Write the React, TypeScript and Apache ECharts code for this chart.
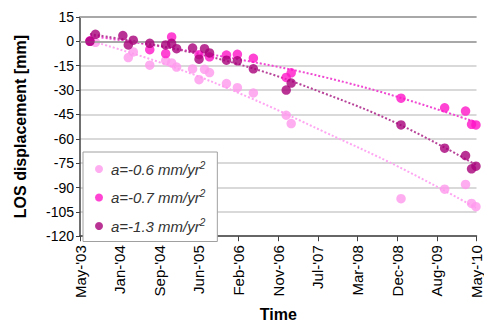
import React, { useEffect, useRef } from "react";
import * as echarts from "echarts";

// Axis starts at May 2003 (decimal year), one tick every 0.7 year
const AXIS_START = 2003.3333;
const TICK_STEP = 0.7;
const tickLabels = [
  "May-'03", "Jan-'04", "Sep-'04", "Jun-'05", "Feb-'06", "Nov-'06",
  "Jul-'07", "Mar-'08", "Dec-'08", "Aug-'09", "May-'10",
];
const yTicks = { min: -120, max: 15, step: 15 };

const seriesNames = ["a=-0.6 mm/yr", "a=-0.7 mm/yr", "a=-1.3 mm/yr"];
const colors = ["#ff99ee", "#ff14c8", "#a8007a"];
const trendColors = ["#ffa6f2", "#f048d2", "#b8449a"];

// [decimal year, LOS displacement mm]
const lightPts: [number, number][] = [
  [2003.509, 0], [2003.606, -0.6], [2004.186, -10], [2004.274, -6.5],
  [2004.565, -14.7], [2004.846, -11.8], [2004.951, -13.3], [2005.039, -15.8],
  [2005.321, -17], [2005.435, -23.6], [2005.532, -17.2], [2005.62, -19.2],
  [2005.919, -26], [2006.112, -28.5], [2006.394, -31.8], [2006.974, -45.5],
  [2007.062, -50.6], [2009.001, -96.9], [2009.771, -91], [2010.14, -88.1],
  [2010.246, -99.8], [2010.324, -101.8],
];
const midPts: [number, number][] = [
  [2003.509, 0.3], [2004.565, -5.1], [2004.846, -7.5], [2004.951, 2.7],
  [2005.435, -8.2], [2005.62, -9.5], [2005.919, -8.4], [2006.112, -8],
  [2006.394, -10.4], [2006.974, -22.2], [2007.062, -19.4], [2009.001, -35],
  [2009.771, -40.9], [2010.14, -42.9], [2010.246, -51.1], [2010.324, -51.5],
];
const darkPts: [number, number][] = [
  [2003.509, 0], [2003.606, 4.3], [2004.09, 3.6], [2004.186, -2.2],
  [2004.274, 0.7], [2004.565, -1.2], [2004.846, -2.2], [2004.951, -1.2],
  [2005.039, -4.5], [2005.321, -4.1], [2005.435, -11], [2005.532, -4.5],
  [2005.62, -7.1], [2005.919, -11.6], [2006.112, -12], [2006.394, -16.9],
  [2006.974, -30], [2007.062, -25.7], [2009.001, -51.5], [2009.771, -65.8],
  [2010.14, -70.3], [2010.246, -78.5], [2010.324, -76.9],
];

// fitted trend curves
const lightTrend: [number, number][] = [
  [2003.509, 0.5], [2004.916, -15], [2006.323, -34.6], [2007.642, -55.7],
  [2008.961, -77.3], [2010.324, -102.5],
];
const midTrend: [number, number][] = [
  [2003.509, 3.5], [2004.916, -4], [2006.323, -12.3], [2007.642, -22],
  [2008.961, -34.4], [2010.324, -49.8],
];
const darkTrend: [number, number][] = [
  [2003.509, 4.5], [2004.916, -4], [2006.323, -16], [2007.642, -32],
  [2008.961, -51], [2010.324, -76],
];

const toAxis = (pts: [number, number][]) =>
  pts.map(([yr, v]) => [yr - AXIS_START, v]);

export default function App() {
  const ref = useRef<HTMLDivElement>(null);
  useEffect(() => {
    if (!ref.current) return;
    const chart = echarts.init(ref.current, undefined, { renderer: "svg" });
    const pts = [lightPts, midPts, darkPts];
    const trends = [lightTrend, midTrend, darkTrend];
    const font = "'Liberation Sans', Arial, sans-serif";
    const series: any[] = [];
    trends.forEach((t, i) => {
      series.push({
        name: "trend" + i,
        type: "line",
        data: toAxis(t),
        smooth: 0.4,
        showSymbol: false,
        symbol: "none",
        lineStyle: { color: trendColors[i], width: 2, type: [2, 2] },
        z: 2,
        silent: true,
        ...(i === 0
          ? {
              markLine: {
                silent: true,
                symbol: "none",
                label: { show: false },
                lineStyle: { color: "#a8a8a8", width: 2, type: "solid" },
                data: [{ yAxis: 0 }, { yAxis: 15 }],
              },
            }
          : {}),
      });
    });
    pts.forEach((p, i) => {
      series.push({
        name: seriesNames[i],
        type: "scatter",
        data: toAxis(p),
        symbol: "circle",
        symbolSize: 9.5,
        itemStyle: { color: colors[i] },
        z: 3 + i,
        clip: false,
      });
    });
    chart.setOption({
      animation: false,
      backgroundColor: "#ffffff",
      textStyle: { fontFamily: font },
      grid: { left: 80, right: 6, top: 17, bottom: 80, containLabel: false },
      legend: {
        data: seriesNames.map((n, i) => ({ name: n, itemStyle: { color: colors[i] } })),
        orient: "vertical",
        left: 83,
        top: 152,
        padding: [8, 12, 8, 12],
        itemGap: 12,
        itemWidth: 8,
        itemHeight: 8,
        icon: "circle",
        backgroundColor: "#ffffff",
        borderColor: "#a0a0a0",
        borderWidth: 1,
        formatter: (name: string) => `{n|${name}}{s|2}`,
        textStyle: {
          fontFamily: font,
          padding: [0, 0, 0, 3],
          rich: {
            n: { fontSize: 15, fontStyle: "italic", color: "#333333", fontFamily: font },
            s: {
              fontSize: 10,
              fontStyle: "italic",
              color: "#333333",
              fontFamily: font,
              padding: [0, 0, 8, 0],
            },
          },
        },
      },
      xAxis: {
        type: "value",
        min: 0,
        max: TICK_STEP * 10,
        interval: TICK_STEP,
        name: "Time",
        nameLocation: "middle",
        nameGap: 66,
        nameTextStyle: { fontSize: 16, fontWeight: "bold", color: "#000", fontFamily: font },
        axisLine: { onZero: false, lineStyle: { color: "#404040", width: 1.5 } },
        axisTick: { show: true, length: 5, lineStyle: { color: "#404040" } },
        splitLine: { show: false },
        axisLabel: {
          rotate: 90,
          margin: 9,
          fontSize: 15,
          color: "#000",
          fontFamily: font,
          formatter: (v: number) => tickLabels[Math.round(v / TICK_STEP)] ?? "",
        },
      },
      yAxis: {
        type: "value",
        min: yTicks.min,
        max: yTicks.max,
        interval: yTicks.step,
        name: "LOS displacement [mm]",
        nameLocation: "middle",
        nameGap: 52,
        nameTextStyle: { fontSize: 16, fontWeight: "bold", color: "#000", fontFamily: font },
        axisLine: { show: true, lineStyle: { color: "#404040", width: 1.5 } },
        axisTick: { show: true, length: 4, lineStyle: { color: "#404040" } },
        splitLine: { show: true, lineStyle: { color: "#d9d9d9", width: 2 } },
        axisLabel: { fontSize: 14, color: "#000", margin: 6, fontFamily: font },
      },
      series,
    });
    return () => chart.dispose();
  }, []);
  return (
    <div
      ref={ref}
      style={{ position: "absolute", left: 0, top: 0, width: 484, height: 327 }}
    />
  );
}
